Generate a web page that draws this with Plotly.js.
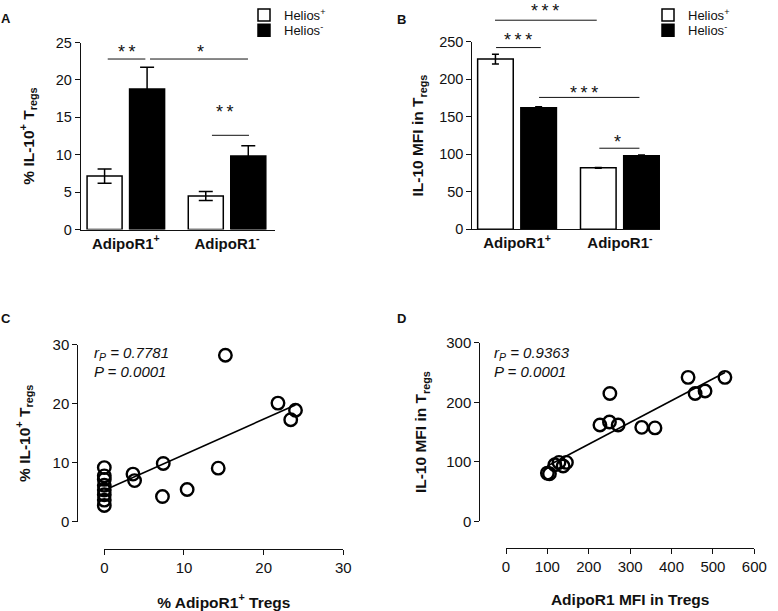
<!DOCTYPE html>
<html>
<head>
<meta charset="utf-8">
<script src="https://cdn.plot.ly/plotly-3.0.1.min.js"></script>
<style>html,body{margin:0;padding:0;background:#fff;}#chart{width:778px;height:611px;}</style>
</head>
<body>
<div id="chart"></div>
<script>
// ---------- data ----------
const categories = ['AdipoR1+', 'AdipoR1-'];
const categoryLabels = ['AdipoR1<sup>+</sup>', 'AdipoR1<sup>-</sup>'];
const seriesNames = ['Helios<sup>+</sup>', 'Helios<sup>-</sup>'];

// Panel A: % IL-10+ Tregs
const aHeliosPos = [7.15, 4.5];
const aHeliosPosErr = [0.95, 0.6];
const aHeliosNeg = [18.8, 9.85];
const aHeliosNegErr = [2.9, 1.35];

// Panel B: IL-10 MFI in Tregs
const bHeliosPos = [227, 82];
const bHeliosPosErr = [6.5, 0.5];
const bHeliosNeg = [162, 98];
const bHeliosNegErr = [1.5, 1];

// Panel C: % AdipoR1+ Tregs vs % IL-10+ Tregs
const cX = [0, 0, 0, 0, 0, 0, 0, 0, 3.6, 3.8, 7.3, 7.4, 10.4, 14.3, 15.2, 21.8, 23.4, 24.0];
const cY = [9.2, 7.8, 7.2, 6.2, 5.4, 4.6, 3.7, 2.8, 8.1, 7.0, 4.3, 9.9, 5.5, 9.1, 28.2, 20.1, 17.3, 18.9];

// Panel D: AdipoR1 MFI vs IL-10 MFI
const dX = [100, 105, 118, 128, 138, 146, 227, 250, 251, 271, 328, 360, 440, 457, 481, 529];
const dY = [81, 80, 95, 99, 93, 99, 162, 167, 215, 162, 158, 157, 242, 215, 219, 242];

const cStats = ['<i>r<sub>P</sub> = 0.7781</i>', '<i>P = 0.0001</i>'];
const dStats = ['<i>r<sub>P</sub> = 0.9363</i>', '<i>P = 0.0001</i>'];

// significance marks: [stars, x-text, y-text, x0, x1, yLine]
const aSig = [
  [2, 0.01, 24.25, -0.179, 0.193, 22.8],
  [1, 0.733, 24.25, 0.239, 1.207, 22.8],
  [2, 0.98, 16.2, 0.851, 1.217, 12.6]
];
const bSig = [
  [3, 0.27, 296.5, -0.214, 0.775, 278.9],
  [3, 0.01, 257.6, -0.204, 0.231, 242.4],
  [3, 0.655, 186.6, 0.214, 1.19, 175.9],
  [1, 0.98, 121.4, 0.80, 1.19, 108.1]
];

// ---------- helpers ----------
function linFit(xs, ys) {
  const n = xs.length;
  const mx = xs.reduce((a, b) => a + b, 0) / n;
  const my = ys.reduce((a, b) => a + b, 0) / n;
  let sxy = 0, sxx = 0;
  for (let i = 0; i < n; i++) { sxy += (xs[i] - mx) * (ys[i] - my); sxx += (xs[i] - mx) ** 2; }
  const slope = sxy / sxx;
  const x0 = Math.min(...xs), x1 = Math.max(...xs);
  return { x: [x0, x1], y: [my + slope * (x0 - mx), my + slope * (x1 - mx)] };
}
const frac = (v, r) => (v - r[0]) / (r[1] - r[0]);

const FONT = 'Liberation Sans, Arial, Helvetica, sans-serif';
const W = 778, H = 611;
const px = v => v / W;
const py = v => 1 - v / H;

const barWhite = { color: 'white', line: { color: 'black', width: 1.5 } };
const barBlack = { color: 'black', line: { color: 'black', width: 1.5 } };

function errBar(arr, w) {
  return { type: 'data', array: arr, visible: true, color: 'black', thickness: 1.5, width: w };
}

const traces = [
  { type: 'bar', x: categories, y: aHeliosPos, name: seriesNames[0], marker: barWhite,
    error_y: errBar(aHeliosPosErr, 7), xaxis: 'x', yaxis: 'y', legend: 'legend' },
  { type: 'bar', x: categories, y: aHeliosNeg, name: seriesNames[1], marker: barBlack,
    error_y: errBar(aHeliosNegErr, 7), xaxis: 'x', yaxis: 'y', legend: 'legend2' },
  { type: 'bar', x: categories, y: bHeliosPos, name: seriesNames[0], marker: barWhite,
    error_y: errBar(bHeliosPosErr, 3.5), xaxis: 'x2', yaxis: 'y2', legend: 'legend3' },
  { type: 'bar', x: categories, y: bHeliosNeg, name: seriesNames[1], marker: barBlack,
    error_y: errBar(bHeliosNegErr, 3.5), xaxis: 'x2', yaxis: 'y2', legend: 'legend4' }
];

const cFit = linFit(cX, cY);
const dFit = linFit(dX, dY);
const circ = { symbol: 'circle-open', size: 12.5, color: 'black', line: { width: 2.4, color: 'black' } };
traces.push(
  { type: 'scatter', mode: 'lines', x: cFit.x, y: cFit.y, line: { color: 'black', width: 1.6 },
    xaxis: 'x3', yaxis: 'y3', showlegend: false },
  { type: 'scatter', mode: 'markers', x: cX, y: cY, cliponaxis: false, marker: circ,
    xaxis: 'x3', yaxis: 'y3', showlegend: false },
  { type: 'scatter', mode: 'lines', x: dFit.x, y: dFit.y, line: { color: 'black', width: 1.6 },
    xaxis: 'x4', yaxis: 'y4', showlegend: false },
  { type: 'scatter', mode: 'markers', x: dX, y: dY, cliponaxis: false, marker: circ,
    xaxis: 'x4', yaxis: 'y4', showlegend: false }
);

const axisBase = {
  showgrid: false, zeroline: false, showline: true, linecolor: '#111', linewidth: 1,
  ticks: 'outside', ticklen: 5, tickwidth: 1, tickcolor: '#111',
  tickfont: { size: 14.5, color: '#111' }, automargin: false, fixedrange: true
};
const catAxis = Object.assign({}, axisBase, {
  type: 'category', ticks: '', tickvals: categories, ticktext: categoryLabels,
  tickfont: { size: 15, color: '#111', weight: 'bold' }
});
const titleFont = { size: 15.5, weight: 'bold', color: '#111' };
const tick15 = { size: 15, color: '#111' };

const aRange = [-0.446, 1.474], bRange = [-0.435, 1.39];
const aY = [0, 25], bY = [0, 250], cR = [0, 30], dXR = [0, 600], dYR = [0, 300];

function legendAt(x, y) {
  return { x: px(x), y: py(y), xanchor: 'left', yanchor: 'middle', font: { size: 13, color: '#111' },
    bgcolor: 'rgba(0,0,0,0)', itemwidth: 30, tracegroupgap: 0 };
}

const layout = {
  width: W, height: H,
  margin: { l: 0, r: 0, t: 0, b: 0 },
  paper_bgcolor: 'white', plot_bgcolor: 'rgba(0,0,0,0)',
  font: { family: FONT, color: '#111' },
  barmode: 'group', bargap: 0.16, bargroupgap: 0.176,
  xaxis: Object.assign({}, catAxis, { domain: [px(80.7), px(275)], range: aRange, anchor: 'y' }),
  yaxis: Object.assign({}, axisBase, { domain: [py(228.3), py(40.7)], range: aY, dtick: 5, anchor: 'x',
    title: { text: '% IL-10<sup>+</sup> T<sub>regs</sub>', font: titleFont, standoff: 17 } }),
  xaxis2: Object.assign({}, catAxis, { domain: [px(472.3), px(660)], range: bRange, anchor: 'y2' }),
  yaxis2: Object.assign({}, axisBase, { domain: [py(228), py(40)], range: bY, dtick: 50, anchor: 'x2',
    title: { text: 'IL-10 MFI in T<sub>regs</sub>', font: titleFont, standoff: 11 } }),
  xaxis3: Object.assign({}, axisBase, { domain: [px(104.3), px(343.3)], range: cR, dtick: 10,
    anchor: 'free', position: py(548.3), tickfont: tick15,
    title: { text: '% AdipoR1<sup>+</sup> Tregs', font: titleFont, standoff: 22 } }),
  yaxis3: Object.assign({}, axisBase, { domain: [py(521.7), py(343.7)], range: cR, dtick: 10,
    anchor: 'free', position: px(77.3), tickfont: tick15,
    title: { text: '% IL-10<sup>+</sup> T<sub>regs</sub>', font: titleFont, standoff: 17 } }),
  xaxis4: Object.assign({}, axisBase, { domain: [px(506), px(754.3)], range: dXR, dtick: 100,
    anchor: 'free', position: py(547.7), tickfont: tick15,
    title: { text: 'AdipoR1 MFI in Tregs', font: titleFont, standoff: 20 } }),
  yaxis4: Object.assign({}, axisBase, { domain: [py(521), py(342)], range: dYR, dtick: 100,
    anchor: 'free', position: px(479.3), tickfont: tick15,
    title: { text: 'IL-10 MFI in T<sub>regs</sub>', font: titleFont, standoff: 14 } }),
  legend: legendAt(244, 12.7),
  legend2: legendAt(244, 28.3),
  legend3: legendAt(648, 12.7),
  legend4: legendAt(648, 28.3),
  showlegend: true,
  annotations: [],
  shapes: []
};

// panel letters
[['A', 6.5, 17], ['B', 401, 17.5], ['C', 6, 317.5], ['D', 401, 317.5]].forEach(([t, x, y]) => {
  layout.annotations.push({ text: '<b>' + t + '</b>', xref: 'paper', yref: 'paper', x: px(x), y: py(y),
    xanchor: 'center', yanchor: 'middle', showarrow: false, font: { size: 13, color: '#111' } });
});

// significance marks (positioned in axis-domain units derived from data values)
function addSig(list, xa, ya, xr, yr) {
  list.forEach(([n, xt, yt, x0, x1, yl]) => {
    layout.annotations.push({ text: Array(n).fill('*').join('\u2009'), xref: xa + ' domain', yref: ya + ' domain',
      x: frac(xt, xr), y: frac(yt, yr), xanchor: 'center', yanchor: 'middle',
      yshift: -4, showarrow: false, font: { size: 18, color: '#111' } });
    layout.shapes.push({ type: 'line', xref: xa + ' domain', yref: ya + ' domain',
      x0: frac(x0, xr), x1: frac(x1, xr), y0: frac(yl, yr), y1: frac(yl, yr),
      line: { color: '#111', width: 1 } });
  });
}
addSig(aSig, 'x', 'y', aRange, aY);
addSig(bSig, 'x2', 'y2', bRange, bY);

// correlation stats
function addStats(stats, xa, ya, xr, yr, x, y1, y2) {
  [[stats[0], y1], [stats[1], y2]].forEach(([t, y]) => {
    layout.annotations.push({ text: t, xref: xa + ' domain', yref: ya + ' domain', x: frac(x, xr), y: frac(y, yr),
      xanchor: 'left', yanchor: 'middle', showarrow: false, font: { size: 15, color: '#111' } });
  });
}
addStats(cStats, 'x3', 'y3', cR, cR, -1.58, 28.5, 25.5);
addStats(dStats, 'x4', 'y4', dXR, dYR, -34.5, 282, 252);

Plotly.newPlot('chart', traces, layout, { displayModeBar: false, staticPlot: true });
</script>
</body>
</html>
